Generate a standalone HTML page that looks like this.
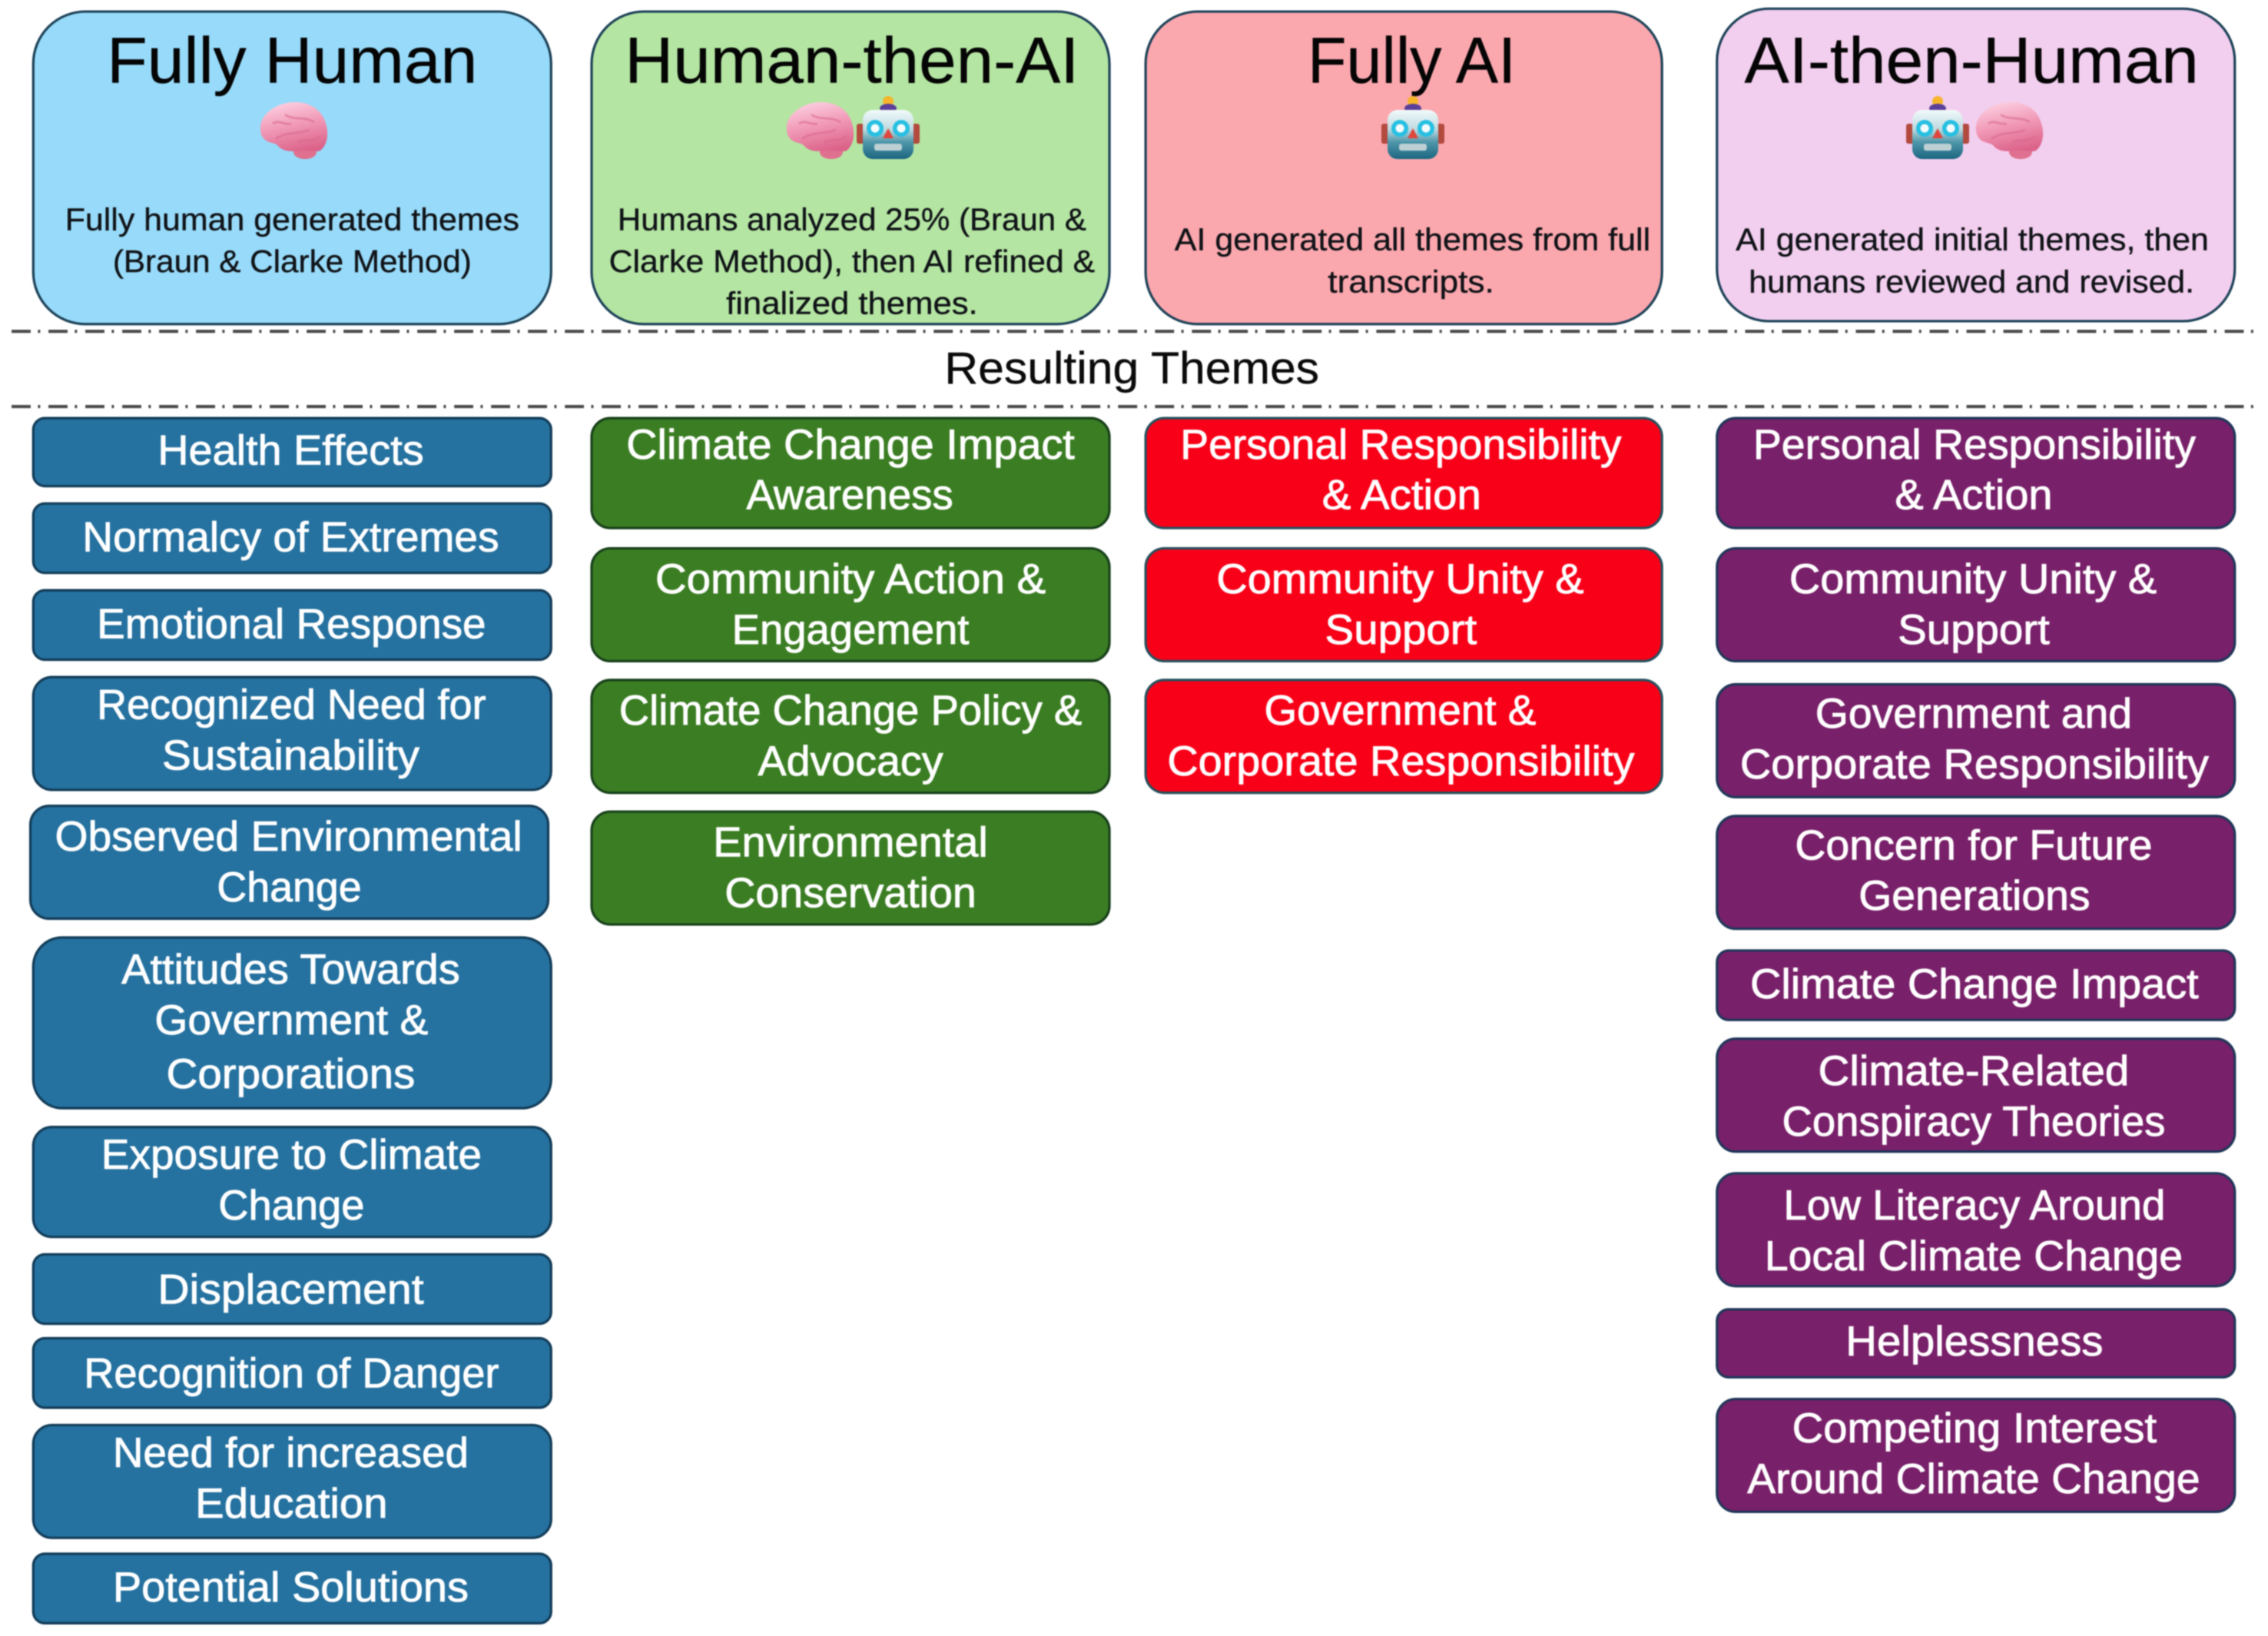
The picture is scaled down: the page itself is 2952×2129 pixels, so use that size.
<!DOCTYPE html>
<html lang="en">
<head>
<meta charset="utf-8">
<title>Resulting Themes</title>
<style>
html,body{margin:0;padding:0;background:#fff;width:2952px;height:2129px;overflow:hidden}
svg{display:block;filter:blur(0.9px)}
text{font-family:"Liberation Sans",sans-serif}
.t{font-size:45px;fill:#050505;stroke:#050505;stroke-width:.2px}
.d{font-size:21.5px;fill:#101317;stroke:#101317;stroke-width:.2px}
.r{font-size:31px;fill:#0a0a0a;stroke:#0a0a0a;stroke-width:.2px}
.i{font-size:29px;fill:#fff;stroke:#fff;stroke-width:.45px}
.h rect{stroke:#1d4258;stroke-width:1.7}
.b rect{fill:#25719f;stroke:#123c58;stroke-width:1.7}
.g rect{fill:#3b7d23;stroke:#17401a;stroke-width:1.7}
.e rect{fill:#f80018;stroke:#27505c;stroke-width:1.7}
.p rect{fill:#782069;stroke:#1f3658;stroke-width:1.7}
</style>
</head>
<body>
<svg xmlns="http://www.w3.org/2000/svg" width="2952" height="2129" viewBox="0 0 2952 2129">
<defs>
<linearGradient id="bg" x1="0.3" y1="0" x2="0.6" y2="1"><stop offset="0" stop-color="#fccfe0"/><stop offset=".5" stop-color="#f097b5"/><stop offset="1" stop-color="#dc6289"/></linearGradient>
<linearGradient id="rg" x1="0" y1="0" x2="0" y2="1"><stop offset="0" stop-color="#f2fafb"/><stop offset=".4" stop-color="#bcd9df"/><stop offset=".65" stop-color="#4f97aa"/><stop offset="1" stop-color="#1c6580"/></linearGradient>
<g id="brain">
<ellipse cx="60" cy="65" rx="15" ry="9" fill="#e0708f"/>
<path d="M2,36C0,20 16,5 36,1C54,-3 77,3 85,22C92,38 90,55 80,63C72,66 62,61 50,63C40,65 30,63 25,57C21,52 13,54 7,48C4,45 2,41 2,36Z" fill="url(#bg)"/>
<path d="M22,48C34,38 52,42 66,36M34,16C44,24 60,18 72,26M18,28C26,22 32,30 42,28M50,52C60,48 70,52 80,44" fill="none" stroke="#d9688e" stroke-width="3" opacity=".55"/>
</g>
<g id="robot">
<rect x="0" y="38" width="10" height="26" rx="3" fill="#b24a3e"/>
<rect x="72" y="38" width="10" height="26" rx="3" fill="#b24a3e"/>
<circle cx="41" cy="9" r="7" fill="#f6b52a"/>
<ellipse cx="41" cy="18" rx="11" ry="6" fill="#5c3f98"/>
<rect x="8" y="20" width="66" height="64" rx="13" fill="url(#rg)"/>
<circle cx="24" cy="44" r="11" fill="#27c0e2"/><circle cx="24" cy="44" r="5.5" fill="#f3fbfd"/>
<circle cx="58" cy="44" r="11" fill="#27c0e2"/><circle cx="58" cy="44" r="5.5" fill="#f3fbfd"/>
<path d="M41,44L34,57H48Z" fill="#e0463c"/>
<rect x="23" y="64" width="36" height="9" rx="3" fill="#bdd0d4"/>
</g>
</defs>

<g transform="scale(1.8827)">
<!-- dashed separators -->
<line x1="8" y1="229" x2="1558" y2="229" stroke="#4a4a4a" stroke-width="2.2" stroke-dasharray="13.2 5 1.6 5.7"/>
<line x1="8" y1="281" x2="1558" y2="281" stroke="#4a4a4a" stroke-width="2.2" stroke-dasharray="13.2 5 1.6 5.7"/>

<!-- headers -->
<g class="h">
<rect x="23" y="8" width="358" height="216" rx="36" fill="#97daf9"/>
<rect x="409" y="8" width="358" height="216" rx="36" fill="#b4e5a2"/>
<rect x="792" y="8" width="357" height="216" rx="36" fill="#fba7ae"/>
<rect x="1187" y="6" width="358" height="216" rx="36" fill="#f2ceef"/>
</g>
<text class="t" x="74" y="57" textLength="256" lengthAdjust="spacingAndGlyphs">Fully Human</text>
<text class="t" x="432" y="57" textLength="314" lengthAdjust="spacingAndGlyphs">Human-then-AI</text>
<text class="t" x="904" y="57" textLength="144" lengthAdjust="spacingAndGlyphs">Fully AI</text>
<text class="t" x="1206" y="57" textLength="314" lengthAdjust="spacingAndGlyphs">AI-then-Human</text>

<text class="d" x="45" y="159" textLength="314" lengthAdjust="spacingAndGlyphs">Fully human generated themes</text>
<text class="d" x="78" y="188" textLength="248" lengthAdjust="spacingAndGlyphs">(Braun &amp; Clarke Method)</text>
<text class="d" x="427" y="159" textLength="324" lengthAdjust="spacingAndGlyphs">Humans analyzed 25% (Braun &amp;</text>
<text class="d" x="421" y="188" textLength="336" lengthAdjust="spacingAndGlyphs">Clarke Method), then AI refined &amp;</text>
<text class="d" x="502" y="217" textLength="174" lengthAdjust="spacingAndGlyphs">finalized themes.</text>
<text class="d" x="812" y="173" textLength="329" lengthAdjust="spacingAndGlyphs">AI generated all themes from full</text>
<text class="d" x="918" y="202" textLength="115" lengthAdjust="spacingAndGlyphs">transcripts.</text>
<text class="d" x="1200" y="173" textLength="327" lengthAdjust="spacingAndGlyphs">AI generated initial themes, then</text>
<text class="d" x="1209" y="202" textLength="308" lengthAdjust="spacingAndGlyphs">humans reviewed and revised.</text>

<text class="r" x="653" y="265" textLength="259" lengthAdjust="spacingAndGlyphs">Resulting Themes</text>

<!-- column 1 -->
<g class="b">
<rect x="23" y="289" width="358" height="47" rx="8"/>
<rect x="23" y="348" width="358" height="48" rx="8"/>
<rect x="23" y="408" width="358" height="48" rx="8"/>
<rect x="23" y="468" width="358" height="78" rx="13"/>
<rect x="21" y="557" width="358" height="78" rx="13"/>
<rect x="23" y="648" width="358" height="118" rx="20"/>
<rect x="23" y="779" width="358" height="76" rx="13"/>
<rect x="23" y="867" width="358" height="48" rx="8"/>
<rect x="23" y="925" width="358" height="48" rx="8"/>
<rect x="23" y="985" width="358" height="78" rx="13"/>
<rect x="23" y="1074" width="358" height="48" rx="8"/>
</g>
<text class="i" x="109" y="321" textLength="184" lengthAdjust="spacingAndGlyphs">Health Effects</text>
<text class="i" x="57" y="381" textLength="288" lengthAdjust="spacingAndGlyphs">Normalcy of Extremes</text>
<text class="i" x="67" y="441" textLength="269" lengthAdjust="spacingAndGlyphs">Emotional Response</text>
<text class="i" x="67" y="497" textLength="269" lengthAdjust="spacingAndGlyphs">Recognized Need for</text>
<text class="i" x="112" y="532" textLength="178" lengthAdjust="spacingAndGlyphs">Sustainability</text>
<text class="i" x="38" y="588" textLength="323" lengthAdjust="spacingAndGlyphs">Observed Environmental</text>
<text class="i" x="150" y="623" textLength="100" lengthAdjust="spacingAndGlyphs">Change</text>
<text class="i" x="84" y="680" textLength="234" lengthAdjust="spacingAndGlyphs">Attitudes Towards</text>
<text class="i" x="107" y="715" textLength="189" lengthAdjust="spacingAndGlyphs">Government &amp;</text>
<text class="i" x="115" y="752" textLength="172" lengthAdjust="spacingAndGlyphs">Corporations</text>
<text class="i" x="70" y="808" textLength="263" lengthAdjust="spacingAndGlyphs">Exposure to Climate</text>
<text class="i" x="151" y="843" textLength="101" lengthAdjust="spacingAndGlyphs">Change</text>
<text class="i" x="109" y="901" textLength="184" lengthAdjust="spacingAndGlyphs">Displacement</text>
<text class="i" x="58" y="959" textLength="287" lengthAdjust="spacingAndGlyphs">Recognition of Danger</text>
<text class="i" x="78" y="1014" textLength="246" lengthAdjust="spacingAndGlyphs">Need for increased</text>
<text class="i" x="135" y="1049" textLength="133" lengthAdjust="spacingAndGlyphs">Education</text>
<text class="i" x="78" y="1107" textLength="246" lengthAdjust="spacingAndGlyphs">Potential Solutions</text>

<!-- column 2 -->
<g class="g">
<rect x="409" y="289" width="358" height="76" rx="13"/>
<rect x="409" y="379" width="358" height="78" rx="13"/>
<rect x="409" y="470" width="358" height="78" rx="13"/>
<rect x="409" y="561" width="358" height="78" rx="13"/>
</g>
<text class="i" x="433" y="317" textLength="310" lengthAdjust="spacingAndGlyphs">Climate Change Impact</text>
<text class="i" x="516" y="352" textLength="143" lengthAdjust="spacingAndGlyphs">Awareness</text>
<text class="i" x="453" y="410" textLength="270" lengthAdjust="spacingAndGlyphs">Community Action &amp;</text>
<text class="i" x="506" y="445" textLength="164" lengthAdjust="spacingAndGlyphs">Engagement</text>
<text class="i" x="428" y="501" textLength="320" lengthAdjust="spacingAndGlyphs">Climate Change Policy &amp;</text>
<text class="i" x="524" y="536" textLength="128" lengthAdjust="spacingAndGlyphs">Advocacy</text>
<text class="i" x="493" y="592" textLength="190" lengthAdjust="spacingAndGlyphs">Environmental</text>
<text class="i" x="501" y="627" textLength="174" lengthAdjust="spacingAndGlyphs">Conservation</text>

<!-- column 3 -->
<g class="e">
<rect x="792" y="289" width="357" height="76" rx="13"/>
<rect x="792" y="379" width="357" height="78" rx="13"/>
<rect x="792" y="470" width="357" height="78" rx="13"/>
</g>
<text class="i" x="816" y="317" textLength="305" lengthAdjust="spacingAndGlyphs">Personal Responsibility</text>
<text class="i" x="914" y="352" textLength="110" lengthAdjust="spacingAndGlyphs">&amp; Action</text>
<text class="i" x="841" y="410" textLength="254" lengthAdjust="spacingAndGlyphs">Community Unity &amp;</text>
<text class="i" x="916" y="445" textLength="105" lengthAdjust="spacingAndGlyphs">Support</text>
<text class="i" x="874" y="501" textLength="188" lengthAdjust="spacingAndGlyphs">Government &amp;</text>
<text class="i" x="807" y="536" textLength="323" lengthAdjust="spacingAndGlyphs">Corporate Responsibility</text>

<!-- column 4 -->
<g class="p">
<rect x="1187" y="289" width="358" height="76" rx="13"/>
<rect x="1187" y="379" width="358" height="78" rx="13"/>
<rect x="1187" y="473" width="358" height="78" rx="13"/>
<rect x="1187" y="564" width="358" height="78" rx="13"/>
<rect x="1187" y="657" width="358" height="48" rx="8"/>
<rect x="1187" y="718" width="358" height="78" rx="13"/>
<rect x="1187" y="811" width="358" height="78" rx="13"/>
<rect x="1187" y="905" width="358" height="47" rx="8"/>
<rect x="1187" y="967" width="358" height="78" rx="13"/>
</g>
<text class="i" x="1212" y="317" textLength="306" lengthAdjust="spacingAndGlyphs">Personal Responsibility</text>
<text class="i" x="1310" y="352" textLength="109" lengthAdjust="spacingAndGlyphs">&amp; Action</text>
<text class="i" x="1237" y="410" textLength="254" lengthAdjust="spacingAndGlyphs">Community Unity &amp;</text>
<text class="i" x="1312" y="445" textLength="105" lengthAdjust="spacingAndGlyphs">Support</text>
<text class="i" x="1255" y="503" textLength="219" lengthAdjust="spacingAndGlyphs">Government and</text>
<text class="i" x="1203" y="538" textLength="324" lengthAdjust="spacingAndGlyphs">Corporate Responsibility</text>
<text class="i" x="1241" y="594" textLength="247" lengthAdjust="spacingAndGlyphs">Concern for Future</text>
<text class="i" x="1285" y="629" textLength="160" lengthAdjust="spacingAndGlyphs">Generations</text>
<text class="i" x="1210" y="690" textLength="310" lengthAdjust="spacingAndGlyphs">Climate Change Impact</text>
<text class="i" x="1257" y="750" textLength="215" lengthAdjust="spacingAndGlyphs">Climate-Related</text>
<text class="i" x="1232" y="785" textLength="265" lengthAdjust="spacingAndGlyphs">Conspiracy Theories</text>
<text class="i" x="1233" y="843" textLength="264" lengthAdjust="spacingAndGlyphs">Low Literacy Around</text>
<text class="i" x="1220" y="878" textLength="289" lengthAdjust="spacingAndGlyphs">Local Climate Change</text>
<text class="i" x="1276" y="937" textLength="178" lengthAdjust="spacingAndGlyphs">Helplessness</text>
<text class="i" x="1239" y="997" textLength="252" lengthAdjust="spacingAndGlyphs">Competing Interest</text>
<text class="i" x="1208" y="1032" textLength="313" lengthAdjust="spacingAndGlyphs">Around Climate Change</text>
</g>

<!-- emoji icons -->
<use href="#brain" transform="translate(337,133)"/>
<use href="#brain" transform="translate(1022,133)"/>
<use href="#robot" transform="translate(1115,123)"/>
<use href="#robot" transform="translate(1798,123)"/>
<use href="#robot" transform="translate(2481,123)"/>
<use href="#brain" transform="translate(2570,133)"/>
</svg>
</body>
</html>
